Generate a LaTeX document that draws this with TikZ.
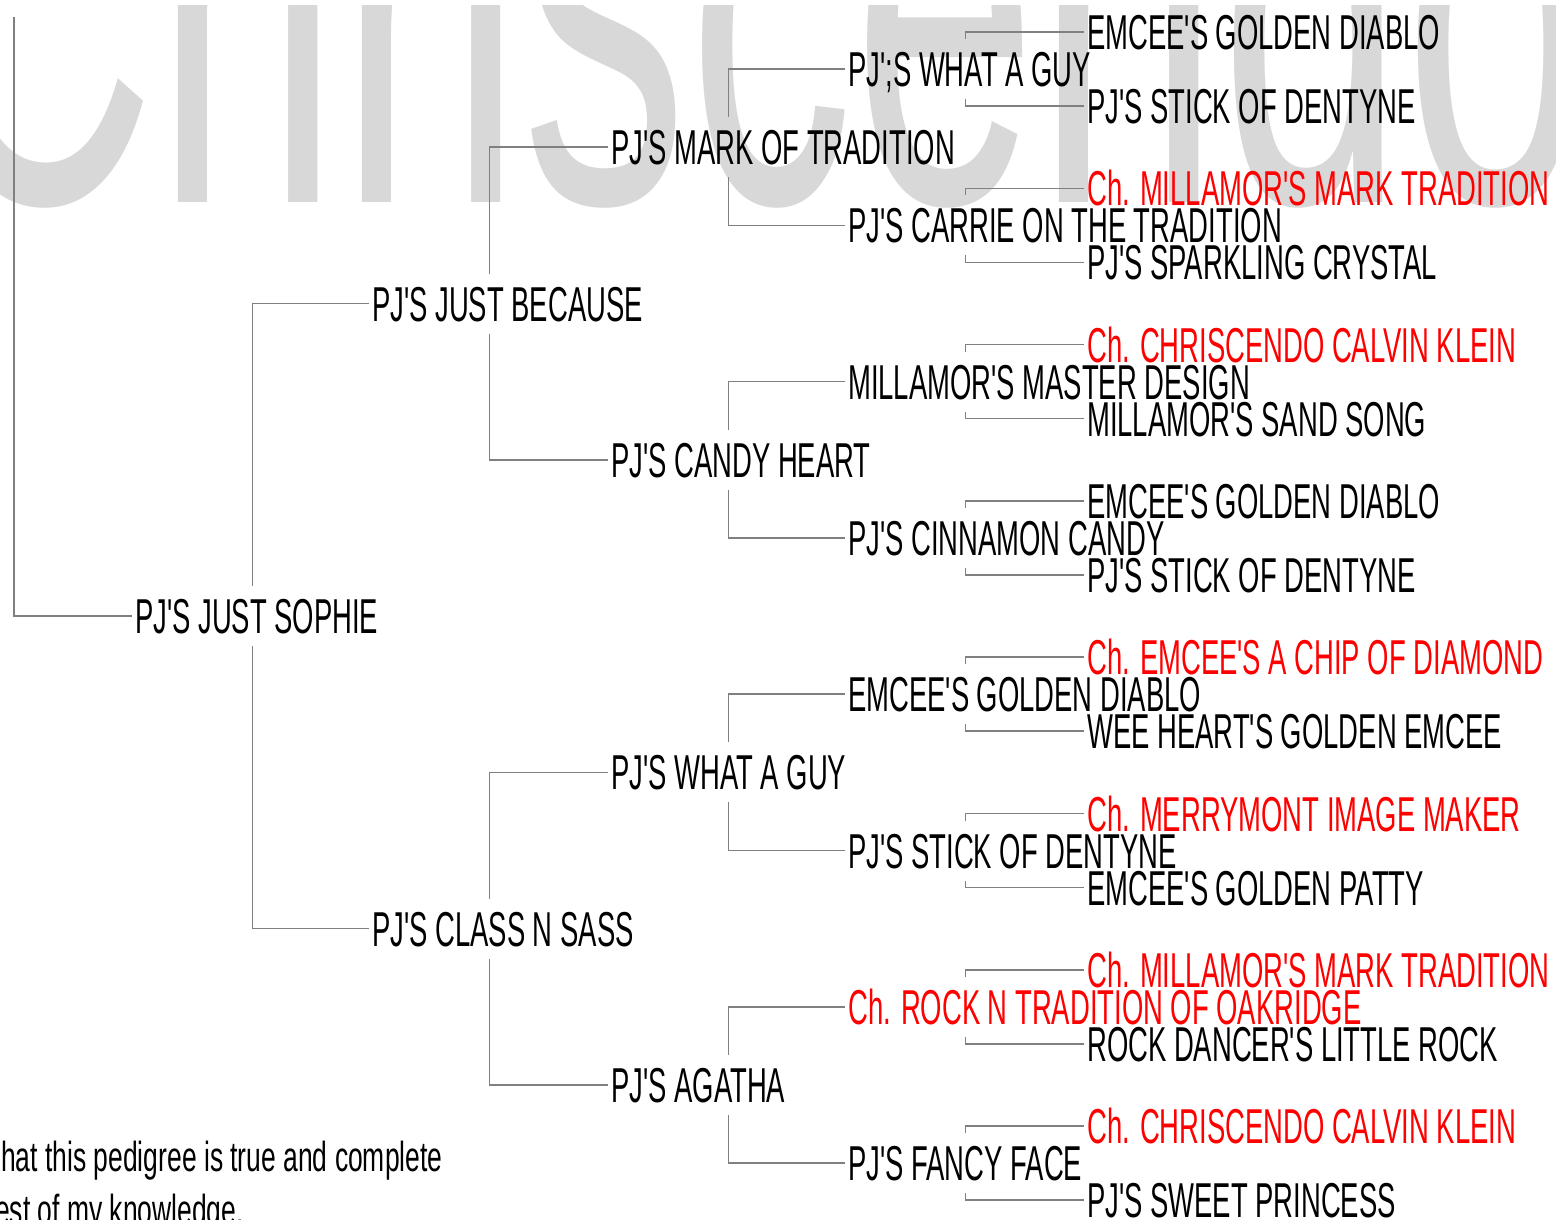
\documentclass[tikz,border=0pt]{standalone}
\usepackage{fontspec}
\newfontfamily\labfont[FakeStretch=0.56,Ligatures=TeXOff]{Liberation Sans}
\newfontfamily\footfont[FakeStretch=0.63,Ligatures=TeXOff]{Liberation Sans}
\definecolor{wmgray}{RGB}{216,216,216}
\definecolor{lngray}{RGB}{128,128,128}
\definecolor{chred}{RGB}{255,0,0}
\newcommand\pedbracket[3]{%
  \draw[conn] ([xshift=-3pt]#2.west) -| ([xshift=117.5pt,yshift=30pt]#1.west);
  \draw[conn] ([xshift=-3pt]#3.west) -| ([xshift=117.5pt,yshift=-30pt]#1.west);}
\begin{document}
\begin{tikzpicture}[x=1pt,y=-1pt,
  lbl/.style={anchor=west,inner sep=0pt,text height=35pt,text depth=0pt,
    font=\labfont\fontsize{49}{49}\selectfont},
  champ/.style={text=chred},
  conn/.style={draw=lngray,line width=1.5pt},
  foot/.style={anchor=base west,inner sep=0pt,font=\footfont\fontsize{42}{42}\selectfont}]
\useasboundingbox[fill=white] (0,0) rectangle (1556,1220);
% watermark
\begin{scope}
\clip (0,6) rectangle (1556,1220);
\node[anchor=base west,inner sep=0pt,text=wmgray,font=\labfont\fontsize{590}{590}\selectfont] (wmk) at (-83,203) {Chriscendo};
\end{scope}
% generation 0
\node[lbl] (s0) at (135,616) {PJ'S JUST SOPHIE};
% generation 1
\node[lbl] (a) at (372,303.5) {PJ'S JUST BECAUSE};
\node[lbl] (b) at (372,928.6) {PJ'S CLASS N SASS};
% generation 2
\node[lbl] (aa) at (611,147.2) {PJ'S MARK OF TRADITION};
\node[lbl] (ab) at (611,459.8) {PJ'S CANDY HEART};
\node[lbl] (ba) at (611,772.3) {PJ'S WHAT A GUY};
\node[lbl] (bb) at (611,1085) {PJ'S AGATHA};
% generation 3
\node[lbl] (aaa) at (848,69) {PJ';S WHAT A GUY};
\node[lbl] (aab) at (848,225.3) {PJ'S CARRIE ON THE TRADITION};
\node[lbl] (aba) at (848,381.6) {MILLAMOR'S MASTER DESIGN};
\node[lbl] (abb) at (848,537.9) {PJ'S CINNAMON CANDY};
\node[lbl] (baa) at (848,694.2) {EMCEE'S GOLDEN DIABLO};
\node[lbl] (bab) at (848,850.5) {PJ'S STICK OF DENTYNE};
\node[lbl,champ] (bba) at (848,1006.8) {Ch. ROCK N TRADITION OF OAKRIDGE};
\node[lbl] (bbb) at (848,1163.1) {PJ'S FANCY FACE};
% generation 4
\node[lbl] (aaaa) at (1087,32) {EMCEE'S GOLDEN DIABLO};
\node[lbl] (aaab) at (1087,106) {PJ'S STICK OF DENTYNE};
\node[lbl,champ] (aaba) at (1087,188.3) {Ch. MILLAMOR'S MARK TRADITION};
\node[lbl] (aabb) at (1087,262.3) {PJ'S SPARKLING CRYSTAL};
\node[lbl,champ] (abaa) at (1087,344.6) {Ch. CHRISCENDO CALVIN KLEIN};
\node[lbl] (abab) at (1087,418.6) {MILLAMOR'S SAND SONG};
\node[lbl] (abba) at (1087,500.9) {EMCEE'S GOLDEN DIABLO};
\node[lbl] (abbb) at (1087,574.9) {PJ'S STICK OF DENTYNE};
\node[lbl,champ] (baaa) at (1087,657.2) {Ch. EMCEE'S A CHIP OF DIAMOND};
\node[lbl] (baab) at (1087,731.2) {WEE HEART'S GOLDEN EMCEE};
\node[lbl,champ] (baba) at (1087,813.5) {Ch. MERRYMONT IMAGE MAKER};
\node[lbl] (babb) at (1087,887.5) {EMCEE'S GOLDEN PATTY};
\node[lbl,champ] (bbaa) at (1087,969.8) {Ch. MILLAMOR'S MARK TRADITION};
\node[lbl] (bbab) at (1087,1043.8) {ROCK DANCER'S LITTLE ROCK};
\node[lbl,champ] (bbba) at (1087,1126.1) {Ch. CHRISCENDO CALVIN KLEIN};
\node[lbl] (bbbb) at (1087,1200.1) {PJ'S SWEET PRINCESS};
% footer
\node[foot] (f1) at (1,1171) {hat this pedigree is true and complete};
\node[foot] (f2) at (-5,1224) {est of my knowledge.};
% connectors
\coordinate (top) at (14,17);
\draw[conn] (top) |- ([xshift=-3pt]s0.west);
\pedbracket{s0}{a}{b}
\pedbracket{a}{aa}{ab}
\pedbracket{b}{ba}{bb}
\pedbracket{aa}{aaa}{aab}
\pedbracket{ab}{aba}{abb}
\pedbracket{ba}{baa}{bab}
\pedbracket{bb}{bba}{bbb}
\pedbracket{aaa}{aaaa}{aaab}
\pedbracket{aab}{aaba}{aabb}
\pedbracket{aba}{abaa}{abab}
\pedbracket{abb}{abba}{abbb}
\pedbracket{baa}{baaa}{baab}
\pedbracket{bab}{baba}{babb}
\pedbracket{bba}{bbaa}{bbab}
\pedbracket{bbb}{bbba}{bbbb}
\end{tikzpicture}
\end{document}
